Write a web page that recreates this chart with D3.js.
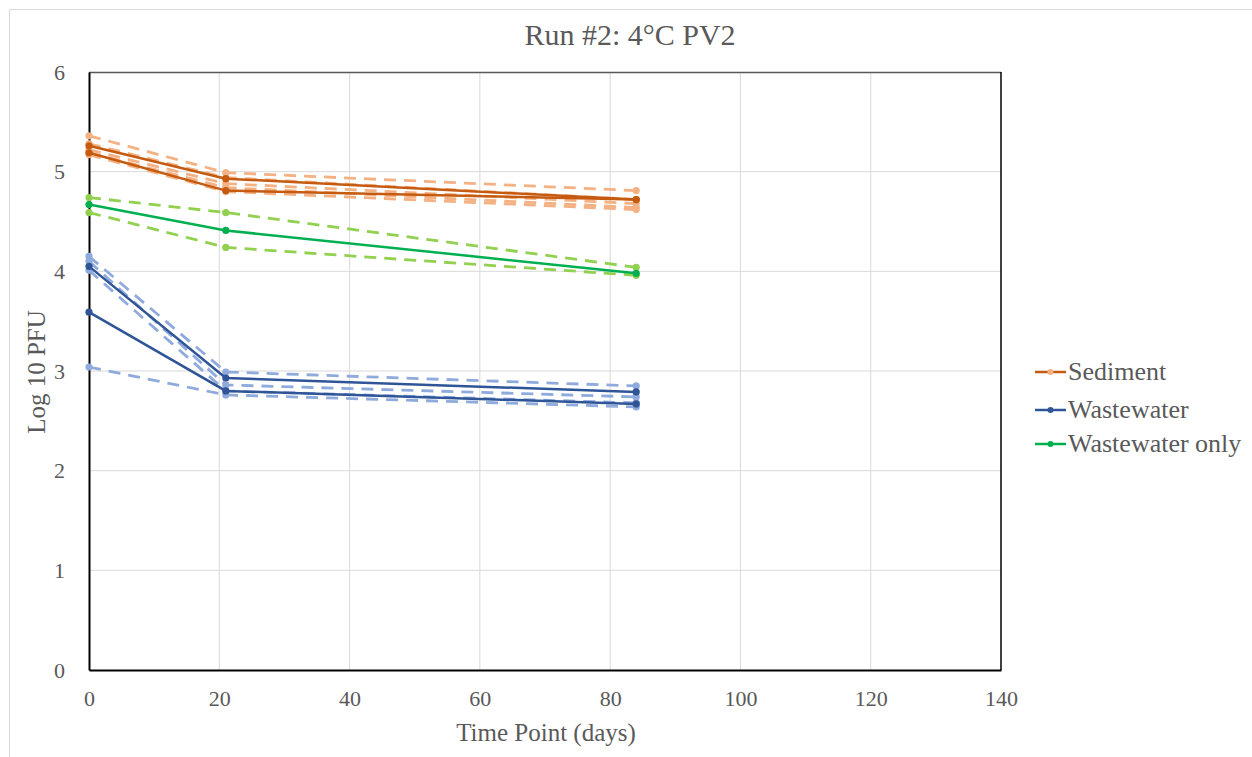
<!DOCTYPE html>
<html><head><meta charset="utf-8">
<script src="https://cdn.jsdelivr.net/npm/d3@7"></script>
<style>body{margin:0;background:#fff}svg{display:block}</style>
</head><body><svg id="c" width="1252" height="757"></svg>
<script>
const days = [0, 21, 84];
const xTicks = [0, 20, 40, 60, 80, 100, 120, 140];
const yTicks = [0, 1, 2, 3, 4, 5, 6];
// Sediment
const sedimentMeanA = [5.26, 4.93, 4.72];
const sedimentMeanB = [5.19, 4.81, 4.72];
const sedimentRep1 = [5.36, 4.99, 4.81];
const sedimentRep2 = [5.28, 4.94, 4.72];
const sedimentRep3 = [5.22, 4.88, 4.68];
const sedimentRep4 = [5.19, 4.84, 4.64];
const sedimentRep5 = [5.17, 4.80, 4.62];
// Wastewater
const wastewaterMeanA = [4.05, 2.93, 2.79];
const wastewaterMeanB = [3.59, 2.80, 2.67];
const wastewaterRep1 = [4.15, 2.99, 2.85];
const wastewaterRep2 = [4.10, 2.86, 2.74];
const wastewaterRep3 = [4.01, 2.80, 2.68];
const wastewaterRep4 = [3.04, 2.76, 2.64];
// Wastewater only
const wwOnlyMean = [4.67, 4.41, 3.98];
const wwOnlyRep1 = [4.74, 4.59, 4.04];
const wwOnlyRep2 = [4.59, 4.24, 3.96];

const title = "Run #2: 4°C PV2";
const xTitle = "Time Point (days)";
const yTitle = "Log 10 PFU";
const legendNames = ["Sediment", "Wastewater", "Wastewater only"];

const svg = d3.select("#c");
const font = "'Liberation Serif','Times New Roman',serif";
const txt = "#595959";
const L = 89, R = 1001, T = 72, B = 670;
const x = d3.scaleLinear().domain([0, 140]).range([L, R]);
const y = d3.scaleLinear().domain([0, 6]).range([B, T]);

// chart border
svg.append("rect").attr("x", 9.5).attr("y", 9.5).attr("width", 1260).attr("height", 760)
  .attr("fill", "none").attr("stroke", "#d9d9d9").attr("stroke-width", 1);

// gridlines
svg.append("g").selectAll("line").data(xTicks.slice(1, -1)).join("line")
  .attr("x1", d => x(d)).attr("x2", d => x(d)).attr("y1", T).attr("y2", B)
  .attr("stroke", "#d9d9d9").attr("stroke-width", 1);
svg.append("g").selectAll("line").data(yTicks.slice(1, -1)).join("line")
  .attr("y1", d => y(d)).attr("y2", d => y(d)).attr("x1", L).attr("x2", R)
  .attr("stroke", "#d9d9d9").attr("stroke-width", 1);

// plot border
svg.append("line").attr("x1", L).attr("x2", R).attr("y1", T + 0.5).attr("y2", T + 0.5).attr("stroke", "#595959").attr("stroke-width", 1.5);
svg.append("line").attr("x1", R).attr("x2", R).attr("y1", T).attr("y2", B).attr("stroke", "#000").attr("stroke-width", 1.5);

// axes
const xAxis = svg.append("g").attr("transform", `translate(0,${B})`)
  .call(d3.axisBottom(x).tickValues(xTicks).tickSize(0).tickPadding(20));
xAxis.select(".domain").attr("stroke", "#000").attr("stroke-width", 2);
xAxis.selectAll("text").attr("font-family", font).attr("font-size", 22).attr("fill", txt);
const yAxis = svg.append("g").attr("transform", `translate(${L},0)`)
  .call(d3.axisLeft(y).tickValues(yTicks).tickFormat(d3.format("d")).tickSize(0).tickPadding(24));
yAxis.select(".domain").attr("stroke", "#000").attr("stroke-width", 2);
yAxis.selectAll("text").attr("font-family", font).attr("font-size", 22).attr("fill", txt);

const line = d3.line().x((d, i) => x(days[i])).y(d => y(d));
const series = [
  {v: sedimentRep1, c: "#F4B183", dash: true}, {v: sedimentRep2, c: "#F4B183", dash: true},
  {v: sedimentRep3, c: "#F4B183", dash: true}, {v: sedimentRep4, c: "#F4B183", dash: true},
  {v: sedimentRep5, c: "#F4B183", dash: true},
  {v: wwOnlyRep1, c: "#92D050", dash: true}, {v: wwOnlyRep2, c: "#92D050", dash: true},
  {v: wastewaterRep1, c: "#8FAADC", dash: true}, {v: wastewaterRep2, c: "#8FAADC", dash: true},
  {v: wastewaterRep3, c: "#8FAADC", dash: true}, {v: wastewaterRep4, c: "#8FAADC", dash: true},
  {v: sedimentMeanA, c: "#C55A11"}, {v: sedimentMeanB, c: "#C55A11"},
  {v: wastewaterMeanA, c: "#2F5597"}, {v: wastewaterMeanB, c: "#2F5597"},
  {v: wwOnlyMean, c: "#00B050"}
];
series.forEach(s => {
  const g = svg.append("g");
  g.append("path").attr("d", line(s.v)).attr("fill", "none").attr("stroke", s.c)
    .attr("stroke-width", s.dash ? 2.8 : 2.5).attr("stroke-dasharray", s.dash ? "12,8" : null);
  g.selectAll("circle").data(s.v).join("circle")
    .attr("cx", (d, i) => x(days[i])).attr("cy", d => y(d)).attr("r", 3.6).attr("fill", s.c);
});

// titles
svg.append("text").attr("x", 630).attr("y", 45).attr("text-anchor", "middle")
  .attr("font-family", font).attr("font-size", 30).attr("fill", txt).text(title);
svg.append("text").attr("x", 546).attr("y", 741).attr("text-anchor", "middle")
  .attr("font-family", font).attr("font-size", 25).attr("fill", txt).text(xTitle);
svg.append("text").attr("transform", "translate(45,372) rotate(-90)").attr("text-anchor", "middle")
  .attr("font-family", font).attr("font-size", 25).attr("fill", txt).text(yTitle);

// legend
const legLine = ["#C55A11", "#2F5597", "#00B050"];
const legDot = ["#F4B183", "#2F5597", "#00B050"];
const legY = [372, 410, 444];
legendNames.forEach((n, i) => {
  const g = svg.append("g");
  g.append("line").attr("x1", 1035).attr("x2", 1066).attr("y1", legY[i]).attr("y2", legY[i])
    .attr("stroke", legLine[i]).attr("stroke-width", 2.5);
  g.append("circle").attr("cx", 1050.5).attr("cy", legY[i]).attr("r", 3).attr("fill", legDot[i]);
  g.append("text").attr("x", 1068).attr("y", legY[i] + 8).attr("font-family", font)
    .attr("font-size", 26).attr("fill", txt).text(n);
});
</script></body></html>
